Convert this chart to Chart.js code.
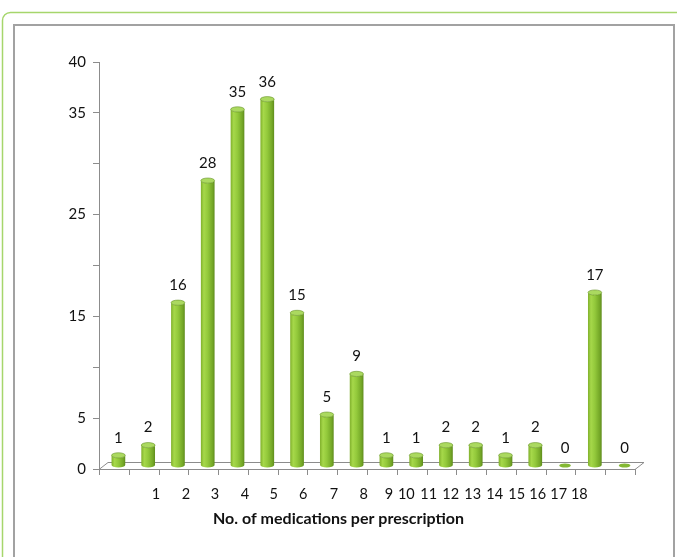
<!DOCTYPE html>
<html>
<head>
<meta charset="utf-8">
<script src="https://cdn.jsdelivr.net/npm/chart.js@4/dist/chart.umd.min.js"></script>
<style>
  html, body { margin: 0; padding: 0; background: #ffffff; }
  canvas { display: block; }
</style>
</head>
<body>
<canvas id="chart" width="677" height="557"></canvas>
<script>
// Number of medications per prescription (x) and prescriptions counted (y)
const categories = ['1', '2', '3', '4', '5', '6', '7', '8', '9', '10', '11', '12', '13', '14', '15', '16', '17', '18'];
const counts = [1, 2, 16, 28, 35, 36, 15, 5, 9, 1, 1, 2, 2, 1, 2, 0, 17, 0];

// Value-axis labels that are printed (ticks every 5)
const yLabelValues = [0, 5, 15, 25, 35, 40];

// Category-axis labels and where they sit along the axis, in category units
const tickLabels = categories;
const tickPositions = [1.91, 2.92, 3.89, 4.90, 5.87, 6.86, 7.89, 8.89, 9.74, 10.32, 11.07, 11.81, 12.55, 13.29, 14.03, 14.73, 15.44, 16.13];

const FONT = 'Lato, "Open Sans", sans-serif';
const DEPTH_X = 9;   // floor depth, horizontal shift of the back edge
const DEPTH_Y = -7;  // floor depth, vertical shift of the back edge

// Frames around the figure
const framePlugin = {
  id: 'frames',
  beforeDraw(chart) {
    const ctx = chart.ctx;
    ctx.save();
    ctx.strokeStyle = '#a6d66c';
    ctx.lineWidth = 1.5;
    ctx.beginPath();
    ctx.roundRect(2.5, 12.5, 720, 600, 8);
    ctx.stroke();
    ctx.strokeStyle = '#a2a2a2';
    ctx.lineWidth = 2;
    ctx.strokeRect(14, 25, 660, 600);
    ctx.restore();
  }
};

// 3D floor with tick marks at the category boundaries
const floorPlugin = {
  id: 'floor',
  beforeDatasetsDraw(chart) {
    const {ctx, chartArea: a} = chart;
    const y0 = chart.scales.y.getPixelForValue(0);
    ctx.save();
    ctx.strokeStyle = '#8c8c8c';
    ctx.lineWidth = 1;
    ctx.beginPath();
    ctx.moveTo(a.left, y0 + 0.5);
    ctx.lineTo(a.right, y0 + 0.5);
    ctx.lineTo(a.right + DEPTH_X, y0 + DEPTH_Y + 0.5);
    ctx.lineTo(a.left + DEPTH_X, y0 + DEPTH_Y + 0.5);
    ctx.closePath();
    ctx.stroke();
    const n = categories.length;
    const w = (a.right - a.left) / n;
    ctx.beginPath();
    for (let i = 0; i <= n; i++) {
      const px = Math.round(a.left + i * w) + 0.5;
      ctx.moveTo(px, y0);
      ctx.lineTo(px, y0 + 6);
    }
    ctx.stroke();
    ctx.restore();
  }
};

// Cylinder bars with value labels
const cylinderPlugin = {
  id: 'cylinders',
  beforeDatasetDraw() {
    return false;
  },
  afterDatasetsDraw(chart) {
    const ctx = chart.ctx;
    const meta = chart.getDatasetMeta(0);
    const data = chart.data.datasets[0].data;
    ctx.save();
    meta.data.forEach((bar, i) => {
      const {x, y, base, width} = bar.getProps(['x', 'y', 'base', 'width'], true);
      const cx = x + DEPTH_X / 2;
      const top = y + DEPTH_Y / 2;
      const bottom = base + DEPTH_Y / 2;
      const rx = width / 2;
      const ry = 2.6;
      if (data[i] > 0) {
        const g = ctx.createLinearGradient(cx - rx, 0, cx + rx, 0);
        g.addColorStop(0, '#80b02c');
        g.addColorStop(0.22, '#a6d84a');
        g.addColorStop(0.5, '#93c93b');
        g.addColorStop(0.85, '#74a727');
        g.addColorStop(1, '#5f8c1d');
        ctx.beginPath();
        ctx.moveTo(cx - rx, top);
        ctx.lineTo(cx - rx, bottom);
        ctx.ellipse(cx, bottom, rx, ry, 0, Math.PI, 0, true);
        ctx.lineTo(cx + rx, top);
        ctx.ellipse(cx, top, rx, ry, 0, 0, Math.PI, false);
        ctx.closePath();
        ctx.fillStyle = g;
        ctx.fill();
        ctx.beginPath();
        ctx.ellipse(cx, top, rx, ry, 0, 0, Math.PI * 2);
        ctx.fillStyle = '#abd960';
        ctx.fill();
        ctx.strokeStyle = 'rgba(95,140,30,0.7)';
        ctx.lineWidth = 0.8;
        ctx.stroke();
      } else {
        ctx.beginPath();
        ctx.ellipse(cx, bottom, rx * 0.85, 2, 0, 0, Math.PI * 2);
        ctx.fillStyle = '#84b834';
        ctx.fill();
      }
      ctx.fillStyle = '#111111';
      ctx.font = '15px ' + FONT;
      ctx.textAlign = 'center';
      ctx.textBaseline = 'middle';
      ctx.fillText(String(data[i]), cx, y - 21);
    });
    ctx.restore();
  }
};

new Chart(document.getElementById('chart'), {
  type: 'bar',
  data: {
    labels: categories,
    datasets: [{
      data: counts,
      backgroundColor: '#8dc63f',
      categoryPercentage: 1,
      barPercentage: 0.46
    }]
  },
  options: {
    responsive: false,
    animation: false,
    devicePixelRatio: 1,
    layout: { padding: { left: 0, top: 62, right: 0, bottom: 0 } },
    plugins: {
      legend: { display: false },
      tooltip: { enabled: false },
      title: {
        display: true,
        position: 'bottom',
        text: 'No. of medications per prescription',
        color: '#111111',
        font: { family: FONT, size: 16, weight: 'bold', lineHeight: 1.2 },
        padding: { top: 0, bottom: 29 }
      }
    },
    scales: {
      x: {
        display: false
      },
      x2: {
        type: 'linear',
        position: 'bottom',
        offset: false,
        min: 0,
        max: categories.length,
        afterFit(scale) { scale.height = 39.8; },
        afterBuildTicks(scale) {
          scale.ticks = tickPositions.map(v => ({ value: v }));
        },
        grid: { display: false, drawTicks: false },
        border: { display: false },
        ticks: {
          autoSkip: false,
          maxRotation: 0,
          padding: 17,
          color: '#111111',
          font: { family: FONT, size: 14.5 },
          callback: (value, index) => tickLabels[index]
        }
      },
      y: {
        min: 0,
        max: 40,
        afterFit(scale) { scale.width = 99; },
        ticks: {
          stepSize: 5,
          padding: 7,
          color: '#111111',
          font: { family: FONT, size: 15 },
          callback: (value) => (yLabelValues.includes(value) ? String(value) : '')
        },
        grid: {
          display: true,
          drawOnChartArea: false,
          drawTicks: true,
          tickLength: 6,
          color: '#8c8c8c'
        },
        border: { display: true, color: '#8c8c8c', width: 1 }
      },
      // empty strip on the right that keeps the plot clear of the frame
      yRight: {
        type: 'linear',
        position: 'right',
        display: true,
        afterFit(scale) { scale.width = 42; },
        grid: { display: false, drawTicks: false },
        border: { display: false },
        ticks: { display: false }
      }
    }
  },
  plugins: [framePlugin, floorPlugin, cylinderPlugin]
});
</script>
</body>
</html>
